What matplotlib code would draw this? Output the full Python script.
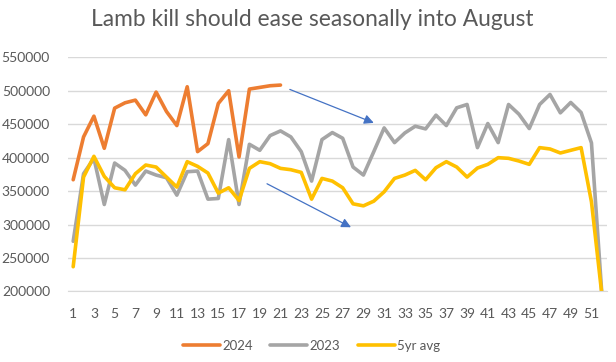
import numpy as np
import matplotlib
matplotlib.use("Agg")
import matplotlib.pyplot as plt

plt.rcParams['font.family'] = ['Lato', 'DejaVu Sans']

weeks = list(range(1, 53))

kill_2024 = [367000, 431000, 462000, 414000, 474000, 482000, 486000, 464000,
             498000, 469000, 448000, 506000, 409000, 421000, 481000, 500000,
             401000, 502500, 505000, 507500, 508500]

kill_2023 = [275000, 376000, 399000, 330000, 392000, 381000, 359000, 380000,
             374000, 370000, 344000, 379000, 380000, 338000, 339000, 427000,
             330000, 420000, 411000, 433000, 440000, 431000, 409000, 365000,
             427000, 437500, 429000, 386000, 374000, 409000, 444500, 422500,
             437000, 447000, 443000, 463500, 448000, 474500, 479500, 415000,
             451000, 422500, 479500, 465000, 443500, 479500, 494500, 467000,
             482500, 467500, 422000, 197000]

avg_5yr = [237000, 371000, 402000, 372000, 355000, 352000, 376000, 389000,
           386000, 371000, 356000, 394000, 387000, 377000, 347000, 355000,
           336000, 384000, 394000, 391000, 384000, 382000, 378000, 338000,
           369000, 365000, 355000, 331000, 328000, 335000, 349000, 369000,
           374000, 381000, 367000, 385000, 394000, 386000, 371000, 384500,
           390000, 400000, 399000, 395000, 390000, 415000, 413000, 407000,
           411000, 415000, 334000, 196000]

text_col = '#595959'
grid_col = '#D9D9D9'

fig = plt.figure(figsize=(6.16, 3.62), dpi=100)
ax = fig.add_axes([0.1104, 0.1948, 0.875, 0.6469])

ax.plot(weeks[:len(kill_2024)], kill_2024, color='#ED7D31', lw=2.6, label='2024',
        solid_joinstyle='round', solid_capstyle='round')
ax.plot(weeks, kill_2023, color='#A5A5A5', lw=2.6, label='2023',
        solid_joinstyle='round', solid_capstyle='round')
ax.plot(weeks, avg_5yr, color='#FFC000', lw=2.6, label='5yr avg',
        solid_joinstyle='round', solid_capstyle='round')

ax.set_xlim(0.5, 52.5)
ax.set_ylim(200000, 550000)
ax.set_yticks(range(200000, 550001, 50000))
ax.set_xticks(weeks[::2])
ax.tick_params(length=0, labelsize=10, labelcolor=text_col)
ax.tick_params(axis='y', pad=13)
ax.tick_params(axis='x', pad=12)
ax.grid(axis='y', color=grid_col, lw=1)
ax.set_axisbelow(True)
for s in ['top', 'right', 'left']:
    ax.spines[s].set_visible(False)
ax.spines['bottom'].set_color(grid_col)

# arrows
arrow_kw = dict(arrowstyle='-|>', color='#4472C4', lw=0.9, mutation_scale=14,
                shrinkA=0, shrinkB=0)
ax.annotate('', xy=(30.0, 452000), xytext=(21.9, 502000), arrowprops=arrow_kw)
ax.annotate('', xy=(27.8, 296000), xytext=(19.7, 361000), arrowprops=arrow_kw)

fig.suptitle('Lamb kill should ease seasonally into August', x=0.507, y=0.975,
             fontsize=16.4, color=text_col)

leg = fig.legend(loc='center', bbox_to_anchor=(0.506, 0.044), ncol=3, frameon=False,
                 fontsize=9.5, handlelength=2.8, columnspacing=1.3, handletextpad=0.2)
for t in leg.get_texts():
    t.set_color(text_col)

fig.savefig('out.png', dpi=100)
